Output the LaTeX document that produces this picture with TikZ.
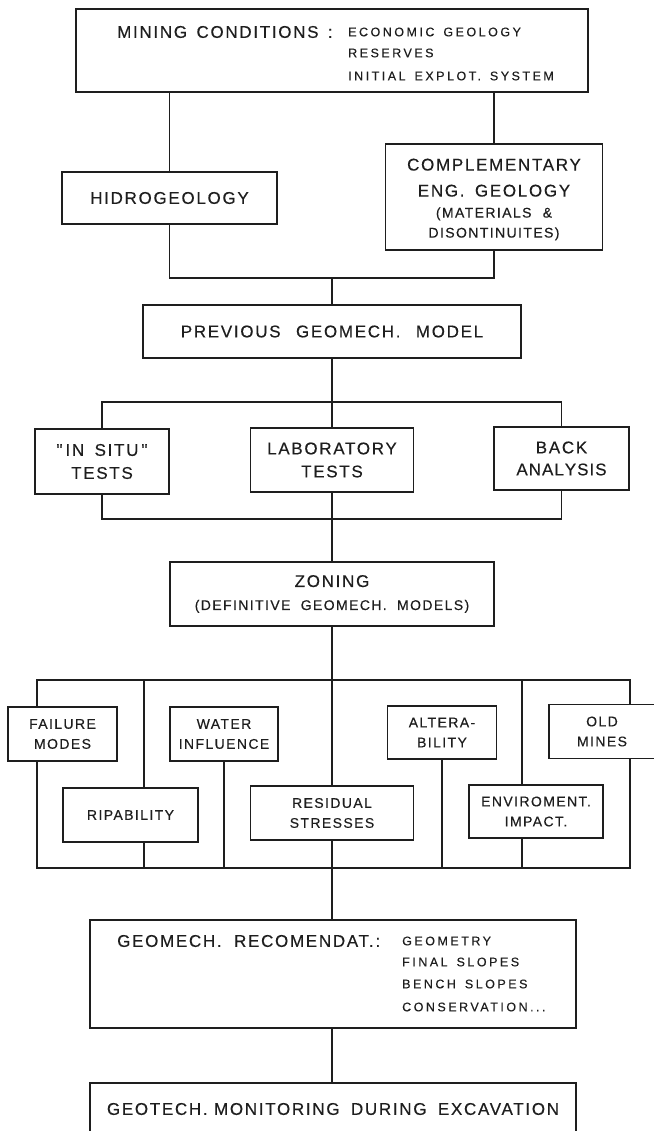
\documentclass[tikz,border=0pt]{standalone}
\usepackage{fontspec}
\setmainfont{Liberation Sans}
\newfontfamily\famA[LetterSpace=10,FakeBold=0.3]{Liberation Sans}
\newfontfamily\famB[LetterSpace=20,FakeBold=0.3]{Liberation Sans}
\newcommand\fsL{\famA\fontsize{17}{24}\selectfont}
\newcommand\fsM{\famA\fontsize{14}{20}\selectfont}
\newcommand\fsS{\famB\fontsize{12.5}{22}\selectfont}
\definecolor{ink}{HTML}{1E1E1E}
\tikzset{
  box/.style={draw=ink, line width=1.4pt, inner sep=0pt, align=center, text=ink, rectangle},
  conn/.style={draw=ink, line width=1.2pt},
  lbl/.style={inner sep=0pt, anchor=west, text=ink},
}
\begin{document}
\begin{tikzpicture}[x=1pt, y=-1pt]
\useasboundingbox (0,0) rectangle (653,1131);
\fill[white] (0,0) rectangle (653,1131);

% top box
\node[box, minimum width=512, minimum height=83] (top) at (332,50.5) {};
\node[lbl, font=\fsL] (mc) at (117,32) {MINING\hspace{3pt} CONDITIONS\hspace{3pt} :};
\node[lbl, font=\fsS] (l1) at (348,32) {ECONOMIC\hspace{3pt} GEOLOGY};
\node[lbl, font=\fsS] (l2) at (348,53) {RESERVES};
\node[lbl, font=\fsS] (l3) at (348,76) {INITIAL\hspace{3pt} EXPLOT.\hspace{3pt} SYSTEM};

% second row
\node[box, minimum width=215, minimum height=52, font=\fsL] (hid) at (169.5,198) {HIDROGEOLOGY};
\node[box, minimum width=217, minimum height=106, font=\fsL] (comp) at (494,197)
  {\rule{0pt}{17pt}COMPLEMENTARY\\[2pt] ENG.\hspace{4pt} GEOLOGY\\[-3pt] {\fsM (MATERIALS\hspace{6pt} \&}\\[-4pt] {\fsM DISONTINUITES)}};
\coordinate (j1) at (332,278);
\draw[conn] (top.south -| hid) -- (hid.north);
\draw[conn] (top.south -| comp) -- (comp.north);
\draw[conn] (hid.south) |- (j1) -| (comp.south);

\node[box, minimum width=378, minimum height=53, font=\fsL] (prev) at (332,331.5)
  {PREVIOUS\hspace{9pt} GEOMECH.\hspace{9pt} MODEL};
\draw[conn] (j1) -- (prev.north);

% tests
\coordinate (j2) at (332,402);
\coordinate (j3) at (332,519);
\node[box, minimum width=134, minimum height=65, font=\fsL] (insitu) at (102,461.5) {"\hspace{3pt}IN\hspace{4pt} SITU\hspace{3pt}"\\[-1pt] TESTS};
\node[box, minimum width=163, minimum height=64, font=\fsL] (lab) at (332,460) {LABORATORY\\[-1pt] TESTS};
\node[box, minimum width=135, minimum height=63, font=\fsL] (back) at (561.5,458.5) {BACK\\[-2pt] A\hspace{1pt}N\hspace{1pt}A\hspace{1pt}L\hspace{1pt}Y\hspace{1pt}S\hspace{1pt}I\hspace{1pt}S};
\draw[conn] (insitu.north) |- (j2) -| (back.north);
\draw[conn] (prev.south) -- (lab.north);
\draw[conn] (insitu.south) |- (j3) -| (back.south);

% zoning
\node[box, minimum width=324, minimum height=64, font=\fsL] (zon) at (332,594)
  {ZONING\\[-1pt] {\fsM (DEFINITIVE\hspace{5pt} GEOMECH.\hspace{5pt} MODELS)}};
\draw[conn] (lab.south) -- (zon.north);

% factors
\node[box, minimum width=109, minimum height=54, font=\fsM] (fail) at (62.5,734) {FAILURE\\ MODES};
\node[box, minimum width=135, minimum height=54, font=\fsM] (ripa) at (130.5,815) {RIPABILITY};
\node[box, minimum width=108, minimum height=54, font=\fsM] (water) at (224,734) {WATER\\ INFLUENCE};
\node[box, minimum width=163, minimum height=54, font=\fsM] (resid) at (332,813) {RESIDUAL\\ STRESSES};
\node[box, minimum width=109, minimum height=53, font=\fsM] (alter) at (442,732.5) {ALTERA-\\ BILITY};
\node[box, minimum width=134, minimum height=53, font=\fsM] (env) at (536,811.5) {ENVIROMENT.\\ IMPACT.};
\node[box, minimum width=106, minimum height=54, font=\fsM] (old) at (602,731.5) {OLD\\ MINES};

\coordinate (a1) at (37,680);
\coordinate (a2) at (37,868);
\coordinate (b1) at (630,680);
\coordinate (b2) at (630,868);
\coordinate (c1) at (144,680);
\coordinate (e1) at (522,680);

\draw[conn] (a1 |- fail.north) -- (a1) -- (b1) -- (b1 |- old.north);
\draw[conn] (a1 |- fail.south) -- (a2) -- (b2) -- (b2 |- old.south);
\draw[conn] (c1) -- (c1 |- ripa.north);
\draw[conn] (c1 |- ripa.south) -- (c1 |- a2);
\draw[conn] (water.south) -- (water.south |- a2);
\draw[conn] (alter.south) -- (alter.south |- a2);
\draw[conn] (e1) -- (e1 |- env.north);
\draw[conn] (e1 |- env.south) -- (e1 |- a2);
\draw[conn] (zon.south) -- (resid.north);

% recommendations
\node[box, minimum width=486, minimum height=108] (geo) at (333,974) {};
\node[lbl, font=\fsL] (gr) at (117,941) {GEOMECH.\hspace{6pt} RECOMENDAT.\hspace{2pt}:};
\node[lbl, font=\fsS] (g1) at (402,941) {GEOMETRY};
\node[lbl, font=\fsS] (g2) at (402,962) {FINAL\hspace{3pt} SLOPES};
\node[lbl, font=\fsS] (g3) at (402,984) {BENCH\hspace{3pt} SLOPES};
\node[lbl, font=\fsS] (g4) at (402,1007) {CONSERVATION...};
\draw[conn] (resid.south) -- (resid.south |- geo.north);

\node[box, minimum width=486, minimum height=52, font=\fsL] (mon) at (333,1109)
  {GEOTECH.\ MONITORING\hspace{5pt} DURING\hspace{5pt} EXCAVATION};
\draw[conn] (geo.south -| resid) -- (resid |- mon.north);
\end{tikzpicture}
\end{document}
